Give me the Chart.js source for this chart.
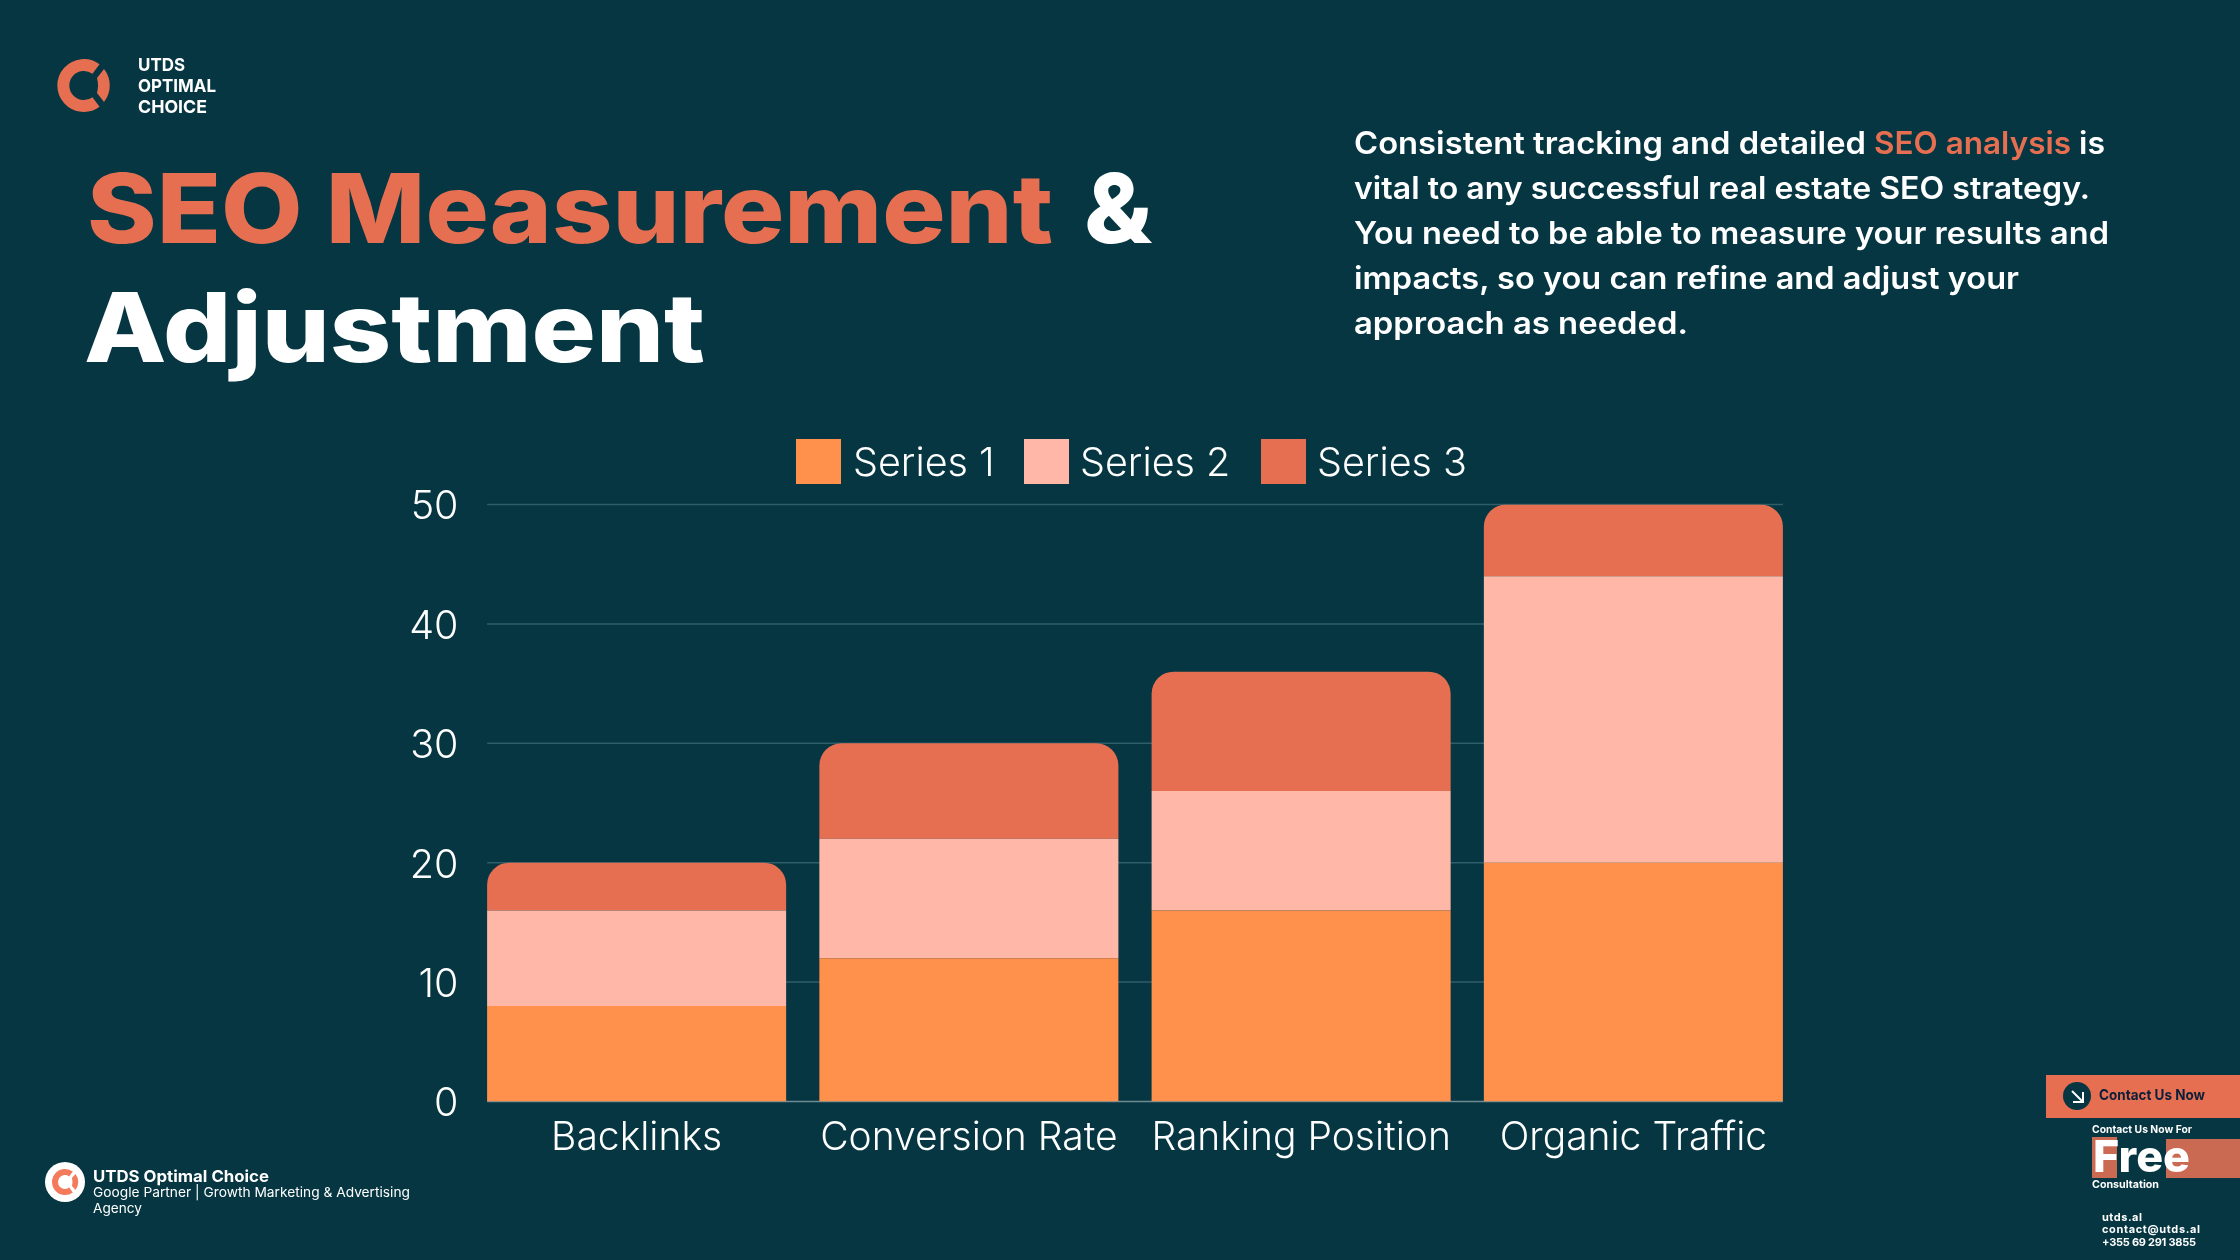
<!DOCTYPE html>
<html>
<head>
<meta charset="utf-8">
<style>
  html, body { margin: 0; padding: 0; background: #053642; }
  #wrap { position: relative; width: 2240px; height: 1260px; overflow: hidden; background: #053642; }
  #chart { position: absolute; left: 0; top: 0; }
  #deco { position: absolute; left: 0; top: 0; }
  #legend { position: absolute; left: 0; top: 0; }
  .sw { position: absolute; top: 439px; width: 45px; height: 45px; }
  .lb { position: absolute; top: 438px; height: 45px; line-height: 45px; font: 300 39.5px Inter; color: #fff; white-space: nowrap; }
  text { font-family: Inter; fill: #fff; }
</style>
</head>
<body>
<div id="wrap">
  <canvas id="chart" width="2240" height="1260"></canvas>
  <div id="legend"></div>
  <svg id="deco" width="2240" height="1260" viewBox="0 0 2240 1260">
    <!-- top logo -->
    <path d="M 96 69 A 20.5 20.5 0 1 0 96 102" fill="none" stroke="#E76F51" stroke-width="12"/>
    <path d="M 104 69 A 26.5 26.5 0 0 1 104 102 L 97 93 Q 99 85.5 97 78 Z" fill="#E76F51"/>
    <text x="138" y="71" font-size="18" font-weight="700" textLength="47" lengthAdjust="spacingAndGlyphs">UTDS</text>
    <text x="138" y="92" font-size="18" font-weight="700" textLength="78" lengthAdjust="spacingAndGlyphs">OPTIMAL</text>
    <text x="138" y="113" font-size="18" font-weight="700" textLength="69" lengthAdjust="spacingAndGlyphs">CHOICE</text>

    <!-- title -->
    <text x="87" y="243" font-size="96" font-weight="800" style="fill:#E76F51" textLength="966" lengthAdjust="spacingAndGlyphs">SEO Measurement</text>
    <text x="1084" y="243" font-size="96" font-weight="800" textLength="68" lengthAdjust="spacingAndGlyphs">&amp;</text>
    <text x="84" y="362" font-size="96" font-weight="800" textLength="621" lengthAdjust="spacingAndGlyphs">Adjustment</text>

    <!-- description -->
    <text x="1354" y="154" font-size="31" font-weight="600" textLength="512" lengthAdjust="spacingAndGlyphs">Consistent tracking and detailed</text>
    <text x="1874" y="154" font-size="31" font-weight="600" style="fill:#E76F51" textLength="197" lengthAdjust="spacingAndGlyphs">SEO analysis</text>
    <text x="2079" y="154" font-size="31" font-weight="600" textLength="26" lengthAdjust="spacingAndGlyphs">is</text>
    <text x="1354" y="199" font-size="31" font-weight="600" textLength="736" lengthAdjust="spacingAndGlyphs">vital to any successful real estate SEO strategy.</text>
    <text x="1354" y="244" font-size="31" font-weight="600" textLength="755" lengthAdjust="spacingAndGlyphs">You need to be able to measure your results and</text>
    <text x="1354" y="289" font-size="31" font-weight="600" textLength="665" lengthAdjust="spacingAndGlyphs">impacts, so you can refine and adjust your</text>
    <text x="1354" y="334" font-size="31" font-weight="600" textLength="334" lengthAdjust="spacingAndGlyphs">approach as needed.</text>

    <!-- bottom left -->
    <circle cx="65" cy="1182" r="20" fill="#fff"/>
    <path d="M 71 1174 A 10 10 0 1 0 71 1190" fill="none" stroke="#F47A5C" stroke-width="6"/>
    <path d="M 75.5 1174 A 13 13 0 0 1 75.5 1190 L 72 1186 Q 73 1182 72 1178 Z" fill="#F47A5C"/>
    <text x="93" y="1182" font-size="16" font-weight="700" textLength="176" lengthAdjust="spacingAndGlyphs">UTDS Optimal Choice</text>
    <text x="93" y="1197" font-size="13.5" font-weight="400" textLength="317" lengthAdjust="spacingAndGlyphs">Google Partner | Growth Marketing &amp; Advertising</text>
    <text x="93" y="1213" font-size="13.5" font-weight="400" textLength="49" lengthAdjust="spacingAndGlyphs">Agency</text>

    <!-- contact box -->
    <rect x="2046" y="1075" width="194" height="43" fill="#E76F51"/>
    <circle cx="2077" cy="1096" r="14" fill="#053642"/>
    <path d="M 2072 1091 L 2082 1101 M 2083 1092 V 1102 H 2073" fill="none" stroke="#fff" stroke-width="2"/>
    <text x="2099" y="1100" font-size="14.5" font-weight="700" style="fill:#0B1F3A" textLength="106" lengthAdjust="spacingAndGlyphs">Contact Us Now</text>
    <text x="2092" y="1133" font-size="10.5" font-weight="700" textLength="100" lengthAdjust="spacingAndGlyphs">Contact Us Now For</text>
    <rect x="2092" y="1137" width="25" height="41" fill="#CB6A52"/>
    <rect x="2166" y="1139" width="74" height="39" fill="#CB6A52"/>
    <text x="2093" y="1172" font-size="44" font-weight="800" textLength="97" lengthAdjust="spacingAndGlyphs">Free</text>
    <text x="2092" y="1188" font-size="10.5" font-weight="700" textLength="67" lengthAdjust="spacingAndGlyphs">Consultation</text>
    <text x="2102" y="1221" font-size="11" font-weight="700" textLength="40" lengthAdjust="spacing">utds.al</text>
    <text x="2102" y="1233" font-size="11" font-weight="700" textLength="98" lengthAdjust="spacing">contact@utds.al</text>
    <text x="2102" y="1246" font-size="11" font-weight="700" textLength="94" lengthAdjust="spacing">+355 69 291 3855</text>
  </svg>
</div>

<script src="https://cdn.jsdelivr.net/npm/chart.js@4"></script>
<script>
var categories = ["Backlinks", "Conversion Rate", "Ranking Position", "Organic Traffic"];
var series1 = [8, 12, 16, 20];
var series2 = [8, 10, 10, 24];
var series3 = [4, 8, 10, 6];
var seriesNames = ["Series 1", "Series 2", "Series 3"];
var seriesColors = ["#FF914D", "#FFB8A8", "#E76F51"];
var yTicks = [0, 10, 20, 30, 40, 50];

// legend is html, chart.js can't set the gap between box and text
var legendPos = [[796, 853], [1024, 1080], [1261, 1317]];
var legendEl = document.getElementById("legend");
seriesNames.forEach(function (name, i) {
  var sw = document.createElement("div");
  sw.className = "sw";
  sw.style.left = legendPos[i][0] + "px";
  sw.style.background = seriesColors[i];
  legendEl.appendChild(sw);
  var lb = document.createElement("div");
  lb.className = "lb";
  lb.style.left = legendPos[i][1] + "px";
  lb.textContent = name;
  legendEl.appendChild(lb);
});

// grid only runs from first bar edge to last bar edge
var edgeGrid = {
  id: "edgeGrid",
  beforeDatasetsDraw: function (chart) {
    var bars = chart.getDatasetMeta(0).data;
    var x0 = bars[0].x - bars[0].width / 2;
    var x1 = bars[bars.length - 1].x + bars[bars.length - 1].width / 2;
    var y = chart.scales.y;
    var c = chart.ctx;
    c.save();
    y.ticks.forEach(function (t) {
      var py = y.getPixelForValue(t.value);
      c.strokeStyle = t.value === 0 ? "#6F8C92" : "#2F5D69";
      c.lineWidth = 1.5;
      c.beginPath();
      c.moveTo(x0, py);
      c.lineTo(x1, py);
      c.stroke();
    });
    c.restore();
  },
};

var ctx = document.getElementById("chart").getContext("2d");
new Chart(ctx, {
  type: "bar",
  data: {
    labels: categories,
    datasets: [
      { label: seriesNames[0], data: series1, backgroundColor: seriesColors[0] },
      { label: seriesNames[1], data: series2, backgroundColor: seriesColors[1] },
      {
        label: seriesNames[2],
        data: series3,
        backgroundColor: seriesColors[2],
        borderRadius: { topLeft: 22, topRight: 22, bottomLeft: 0, bottomRight: 0 },
        borderSkipped: false,
      },
    ],
  },
  options: {
    responsive: false,
    animation: false,
    devicePixelRatio: 1,
    layout: { padding: { top: 504.5, right: 440.5, bottom: 0, left: 0 } },
    plugins: { legend: { display: false }, tooltip: { enabled: false } },
    scales: {
      x: {
        stacked: true,
        grid: { display: false },
        border: { display: false },
        ticks: { color: "#fff", padding: 5, maxRotation: 0, font: { family: "Inter", size: 39, weight: "300" } },
        afterFit: function (s) { s.height = 158.5; },
      },
      y: {
        stacked: true,
        min: 0,
        max: 50,
        afterBuildTicks: function (s) { s.ticks = yTicks.map(function (v) { return { value: v }; }); },
        grid: { display: false },
        border: { display: false },
        ticks: { color: "#fff", padding: 4, labelOffset: 3, font: { family: "Inter", size: 39.5, weight: "300" } },
        afterFit: function (s) { s.width = 470.5; },
      },
    },
    datasets: { bar: { barPercentage: 0.9, categoryPercentage: 1 } },
  },
  plugins: [edgeGrid],
});
</script>
</body>
</html>
